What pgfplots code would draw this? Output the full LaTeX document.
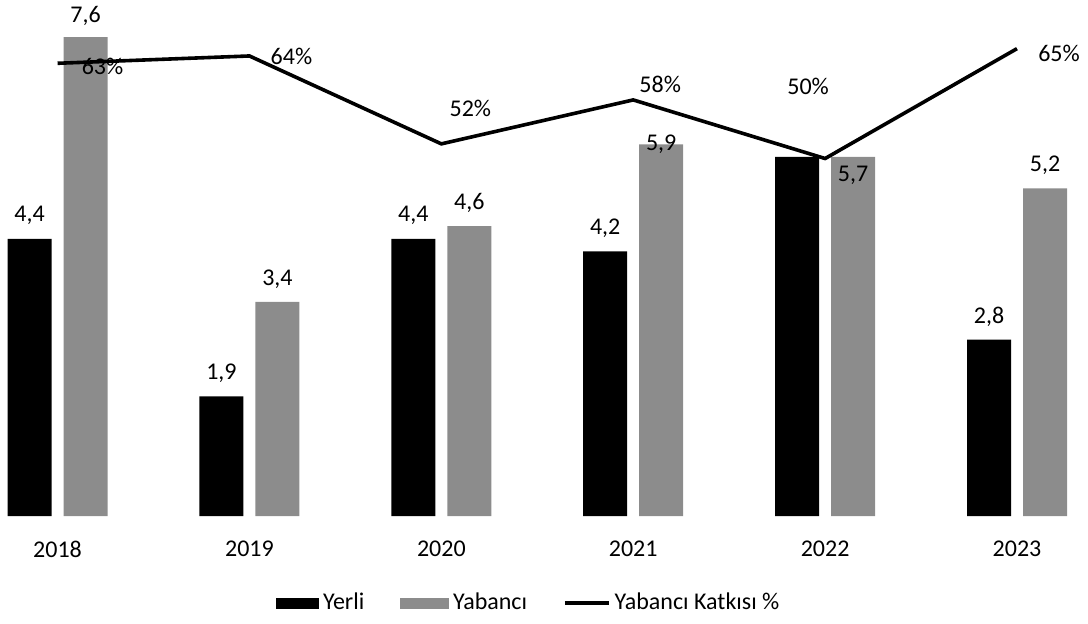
\documentclass[border=0pt]{standalone}
\usepackage{pgfplots}
\pgfplotsset{compat=1.18}
\usepackage{pgfplotstable}
\usepackage{fontspec}
\setmainfont{Carlito}

% x = category index (2018..2023), dy = label shift in pt
\pgfplotstableread{
x y dy
0 4.4 11.5
1 1.9 11.5
2 4.4 11.5
3 4.2 11.5
4 5.7 -10
5 2.8 11.5
}\yerli
\pgfplotstableread{
x y dy
0 7.6 10.5
1 3.4 11.5
2 4.6 11.5
3 5.9 0
4 5.7 -9
5 5.2 11.5
}\yabanci
\pgfplotstableread{
x y dx dy
0 63 22.5 -1.5
1 64 21 0
2 52 14.5 17.5
3 58 13.5 8
4 50 -8.5 36
5 65 21 -2.5
}\katki

\newcommand\lblfont{\fontsize{12}{14}\selectfont}

\begin{document}
\begin{tikzpicture}
\path[use as bounding box] (0,0) rectangle (544pt,311.5pt);

\pgfplotsset{
    base/.style={
        scale only axis,
        width=544pt, height=252pt,
        at={(0pt,53.5pt)}, anchor=south west,
        xmin=-0.30, xmax=5.37,
        clip=false,
        /pgf/number format/assume math mode=true,
    }
}

\begin{axis}[
    base,
    ymin=0, ymax=8,
    hide y axis,
    axis x line*=bottom,
    x axis line style={draw=none},
    major tick length=0pt,
    xtick={0,...,5},
    xticklabels={2018,2019,2020,2021,2022,2023},
    xticklabel style={font=\lblfont, yshift=-9pt},
    bar width=22pt,
    ybar,
]
\addplot[fill=black, draw=none, bar shift=-14pt,
    visualization depends on={\thisrow{dy}\as\dy},
    nodes near coords={\pgfmathprintnumber[fixed,fixed zerofill,precision=1,use comma]{\pgfplotspointmeta}},
    nodes near coords style={font=\lblfont, anchor=center, yshift=\dy pt}]
    table[x=x, y=y] {\yerli};
\addplot[fill=black!45, draw=none, bar shift=14pt,
    visualization depends on={\thisrow{dy}\as\dy},
    nodes near coords={\pgfmathprintnumber[fixed,fixed zerofill,precision=1,use comma]{\pgfplotspointmeta}},
    nodes near coords style={font=\lblfont, anchor=center, yshift=\dy pt}]
    table[x=x, y=y] {\yabanci};
\end{axis}

\begin{axis}[
    base,
    ymin=1.2, ymax=70,
    hide axis,
    legend columns=3,
    legend style={draw=none, fill=none, font=\lblfont,
        at={(axis description cs:0.487,0)}, anchor=center, yshift=-43.5pt,
        /tikz/every even column/.append style={column sep=16pt}},
]
\addlegendimage{legend image code/.code={\fill[black] (0pt,-2.5pt) rectangle (21pt,2.5pt);}}
\addlegendentry{Yerli}
\addlegendimage{legend image code/.code={\fill[black!45] (0pt,-2.5pt) rectangle (24pt,2.5pt);}}
\addlegendentry{Yabancı}
\addplot[black, line width=1.8pt, mark=none,
    legend image code/.code={\draw[black, line width=1.8pt] (0pt,0pt) -- (22pt,0pt);},
    visualization depends on={\thisrow{dx}\as\dx},
    visualization depends on={\thisrow{dy}\as\dy},
    nodes near coords={\pgfmathprintnumber{\pgfplotspointmeta}\%},
    nodes near coords style={font=\lblfont, anchor=center, xshift=\dx pt, yshift=\dy pt}]
    table[x=x, y=y] {\katki};
\addlegendentry{Yabancı Katkısı \%}
\end{axis}
\end{tikzpicture}
\end{document}
